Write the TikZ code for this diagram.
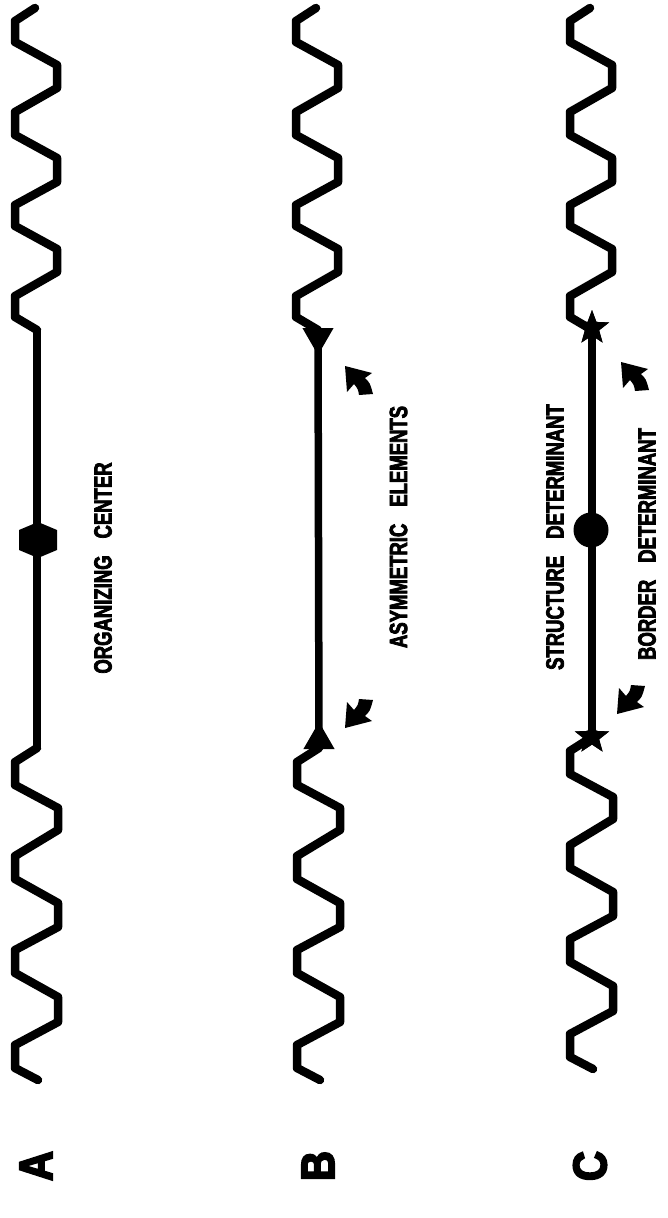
\documentclass[tikz,border=0pt]{standalone}
\usepackage{fontspec}
\usetikzlibrary{shapes.geometric}
\newfontfamily\tagfont{Liberation Sans}[FakeStretch=0.74,FakeBold=3]
\newfontfamily\letterfont{Liberation Sans}[FakeStretch=0.88,FakeBold=4]
\begin{document}
\begin{tikzpicture}[x=1pt,y=-1pt,
  wave/.style={line width=8.5pt, line join=round, line cap=round},
  stem/.style={line width=7.5pt},
  tagtext/.style={rotate=90, inner sep=0pt,
    font=\tagfont\bfseries\fontsize{25pt}{25pt}\selectfont},
  panelletter/.style={rotate=90, inner sep=0pt,
    font=\letterfont\bfseries\fontsize{47pt}{47pt}\selectfont},
  trimark/.style={regular polygon, regular polygon sides=3, fill,
    inner sep=0pt, minimum size=36pt},
  starmark/.style={star, star points=5, star point ratio=2.4, fill,
    inner sep=0pt, minimum size=36pt},
  dotmark/.style={circle, fill, inner sep=0pt, minimum size=35pt},
  upperwave/.pic={\draw[wave] (-2,8) -- (-22,21) -- (-22,42) -- (20,65) -- (20,88)
     -- (-22,112) -- (-22,135) -- (20,158) -- (20,182) -- (-22,205) -- (-22,226)
     -- (20,249) -- (20,272) -- (-22,296) -- (-22,317) -- (0,330);},
  lowerwave/.pic={\draw[wave] (0,0) -- (-22,14) -- (-22,37) -- (21,60) -- (21,82)
     -- (-22,108) -- (-22,131) -- (21,155) -- (21,179) -- (-22,202) -- (-22,225)
     -- (21,249) -- (21,274) -- (-22,297) -- (-22,320) -- (1,332);},
  fatarrow/.pic={\fill[line join=round] (0,0) -- (27,7) -- (20,12) .. controls (25,17) .. (28,28)
     -- (14,29) .. controls (13,23) .. (9,18) -- (2,26) -- cycle;}
]
\useasboundingbox (0,0) rectangle (667,1218);

% ---- A: organizing center ----
\pic at (37,0) {upperwave};
\pic at (37,748) {lowerwave};
\coordinate (atop) at (37,330);
\coordinate (abot) at (37,748);
\coordinate (amid) at (38,540);
\draw[stem] (atop) -- (abot);
\fill[shift={(amid)}] (0,-18) -- (19,-10) -- (19,10) -- (0,18) -- (-19,10) -- (-19,-10) -- cycle;
\node[tagtext] (orgtxt) at (103,568) {ORGANIZING\hspace*{17pt}CENTER};
\node[panelletter] (labA) at (36,1166) {A};

% ---- B: asymmetric elements ----
\pic at (318,0) {upperwave};
\pic at (319,748) {lowerwave};
\coordinate (btopend) at (318,330);
\coordinate (bbotend) at (319,748);
\draw[stem] (btopend) -- (bbotend);
\node[trimark, rotate=180] (btop) at (318,337) {};
\node[trimark] (bbot) at (319,740) {};
\pic at (345,366) {fatarrow};
\pic[yscale=-1] at (345,728) {fatarrow};
\node[tagtext] (asymtxt) at (398.5,527) {ASYMMETRIC\hspace*{17pt}ELEMENTS};
\node[panelletter] (labB) at (318,1166) {B};

% ---- C: structure and border determinants ----
\pic at (592,0) {upperwave};
\pic at (592,737) {lowerwave};
\node[starmark] (ctop) at (592,328) {};
\node[starmark] (cbot) at (592,737) {};
\draw[stem] (ctop.center) -- (cbot.center);
\node[starmark] at (ctop.center) {};
\node[starmark] at (cbot.center) {};
\node[dotmark] (cmid) at (591,530) {};
\pic at (621,362) {fatarrow};
\pic[yscale=-1] at (617,714) {fatarrow};
\node[tagtext] (structtxt) at (555,537) {STRUCTURE\hspace*{17pt}DETERMINANT};
\node[tagtext] (bordtxt) at (647,544) {BORDER\hspace*{17pt}DETERMINANT};
\node[panelletter] (labC) at (590,1166) {C};
\end{tikzpicture}
\end{document}
